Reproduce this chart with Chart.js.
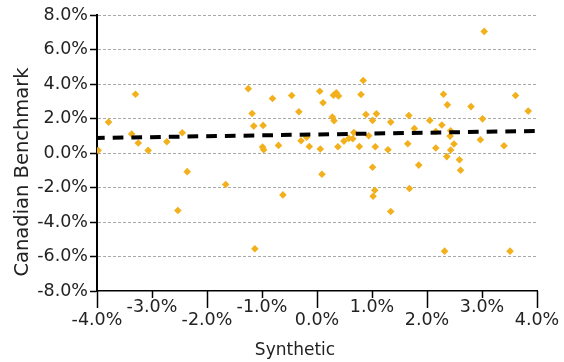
<!DOCTYPE html>
<html>
<head>
<meta charset="utf-8">
<script src="https://cdn.jsdelivr.net/npm/chart.js@4.4.0/dist/chart.umd.min.js"></script>
<style>
  html, body { margin: 0; padding: 0; background: #fff; }
  canvas { display: block; }
</style>
</head>
<body>
<canvas id="chart" width="564" height="362"></canvas>
<script>
// --- Data ---
const synthX = [
  -3.98, -3.79, -3.30, -3.37, -3.25, -3.07, -2.73, -2.45, -2.36, -2.53,
  -1.66, -1.25, -1.18, -1.15, -0.98, -0.99, -0.97, -1.13, -0.81, -0.70,
  -0.62, -0.46, -0.33, -0.29, -0.19, -0.14, 0.05, 0.06, 0.09, 0.11,
  0.28, 0.31, 0.30, 0.35, 0.39, 0.38, 0.49, 0.58, 0.65, 0.67,
  0.77, 0.80, 0.84, 0.89, 0.94, 1.01, 1.08, 1.06, 1.01, 1.05,
  1.02, 1.29, 1.34, 1.34, 1.65, 1.67, 1.68, 1.77, 1.85, 2.05,
  2.16, 2.16, 2.27, 2.30, 2.32, 2.37, 2.36, 2.42, 2.43, 2.43,
  2.49, 2.59, 2.61, 2.80, 2.97, 3.01, 3.04, 3.40, 3.51, 3.61, 3.84
];
const benchY = [
  0.15, 1.79, 3.41, 1.10, 0.58, 0.15, 0.65, 1.17, -1.08, -3.33,
  -1.83, 3.73, 2.29, 1.56, 1.60, 0.35, 0.19, -5.55, 3.16, 0.44,
  -2.43, 3.33, 2.39, 0.71, 0.92, 0.38, 3.58, 0.23, -1.23, 2.91,
  2.08, 1.87, 3.35, 3.49, 3.31, 0.36, 0.69, 0.85, 0.83, 1.19,
  0.38, 3.39, 4.20, 2.23, 1.00, 1.89, 2.27, 0.36, -0.83, -2.16,
  -2.51, 0.19, 1.79, -3.39, 0.54, 2.17, -2.06, 1.42, -0.70, 1.89,
  1.25, 0.29, 1.62, 3.41, -5.69, 2.79, -0.21, 0.98, 1.29, 0.17,
  0.52, -0.39, -1.00, 2.69, 0.77, 1.98, 7.05, 0.42, -5.69, 3.33, 2.43
];
const trendX = [-4, 4];
const trendY = [0.87, 1.28];

const xTitle = 'Synthetic';
const yTitle = 'Canadian Benchmark';

const FONT = "'DejaVu Sans', sans-serif";
const pct = v => v.toFixed(1) + '%';

// staggered x tick marks + axis titles
const extras = {
  id: 'extras',
  afterDraw(chart) {
    const { ctx, scales: { x }, chartArea } = chart;
    ctx.save();
    ctx.strokeStyle = '#000';
    ctx.lineWidth = 1.5;
    x.ticks.forEach(t => {
      const px = Math.round(x.getPixelForValue(t.value)) + 0.5;
      const len = (Math.abs(t.value) % 2 === 0) ? 17 : 7;
      ctx.beginPath();
      ctx.moveTo(px, x.top);
      ctx.lineTo(px, x.top + len);
      ctx.stroke();
    });

    ctx.fillStyle = '#222';
    ctx.font = '17px ' + FONT;
    ctx.textAlign = 'center';
    ctx.textBaseline = 'alphabetic';
    ctx.fillText(xTitle, chartArea.left + 198, 355);

    ctx.translate(28, chartArea.bottom - 119);
    ctx.rotate(-Math.PI / 2);
    ctx.font = '19.5px ' + FONT;
    ctx.fillText(yTitle, 0, 0);
    ctx.restore();
  }
};

new Chart(document.getElementById('chart'), {
  type: 'scatter',
  data: {
    datasets: [
      {
        label: 'Trend',
        data: trendX.map((x, i) => ({ x, y: trendY[i] })),
        showLine: true,
        borderColor: '#000',
        borderWidth: 4,
        borderDash: [10.7, 8],
        borderDashOffset: 3,
        pointRadius: 0,
        order: 0
      },
      {
        label: 'Returns',
        data: synthX.map((x, i) => ({ x, y: benchY[i] })),
        pointStyle: 'rectRot',
        pointRadius: 3.8,
        backgroundColor: '#F2B01C',
        borderWidth: 0,
        order: 1
      }
    ]
  },
  options: {
    responsive: false,
    animation: false,
    devicePixelRatio: 1,
    layout: { padding: { left: 0, right: 27, top: 15, bottom: 0 } },
    plugins: { legend: { display: false }, tooltip: { enabled: false } },
    scales: {
      x: {
        min: -4, max: 4,
        afterFit: s => { s.height = 71; s.paddingLeft = 0; s.paddingRight = 0; },
        grid: { display: false, drawTicks: false },
        border: { display: true, color: '#000', width: 1.5 },
        ticks: {
          stepSize: 1,
          autoSkip: false,
          maxRotation: 0,
          padding: 9.5,
          color: '#222',
          font: { family: FONT, size: 17.5, lineHeight: 0.75 },
          callback: v => (Math.abs(v) % 2 === 0) ? ['', pct(v)] : pct(v)
        }
      },
      y: {
        min: -8, max: 8,
        afterFit: s => { s.width = 97; s.paddingTop = 0; s.paddingBottom = 0; },
        grid: {
          color: c => (c.tick && c.tick.value === -8) ? 'rgba(0,0,0,0)' : '#a8a8a8',
          lineWidth: 1,
          tickColor: '#000',
          tickLength: 7,
          tickWidth: 1.5
        },
        border: { display: true, color: '#000', width: 2, dash: [3, 2] },
        ticks: {
          stepSize: 2,
          padding: 2,
          color: '#222',
          font: { family: FONT, size: 17.5 },
          callback: v => pct(v)
        }
      }
    }
  },
  plugins: [extras]
});
</script>
</body>
</html>
